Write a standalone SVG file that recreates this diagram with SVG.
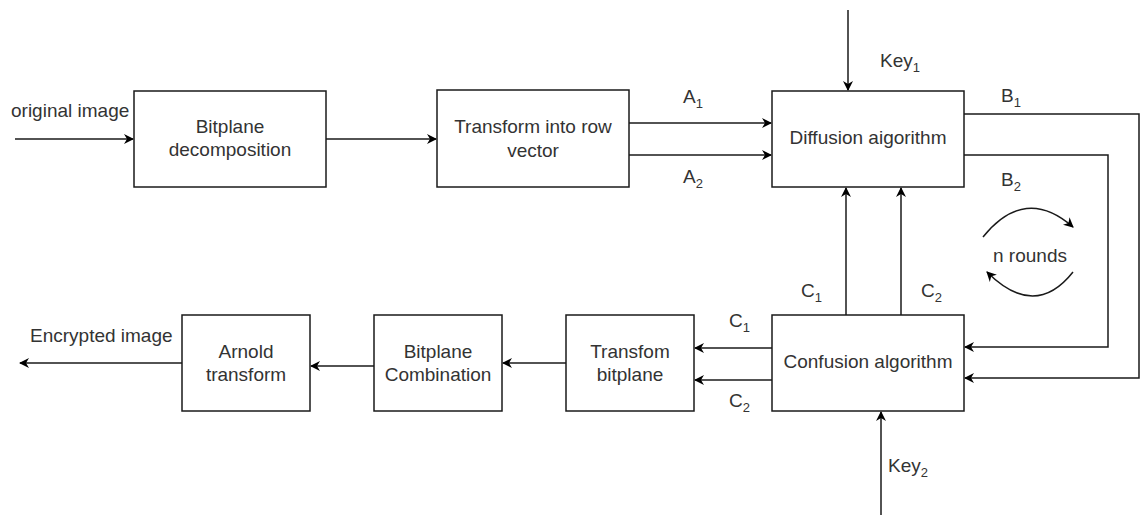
<svg xmlns="http://www.w3.org/2000/svg" width="1146" height="515" viewBox="0 0 1146 515">
<style>
.box{fill:#fff;stroke:#1a1a1a;stroke-width:1.5}
.t{font-family:"Liberation Sans",Arial,sans-serif;font-size:19px;fill:#333}
.s{font-size:13px}
.c{text-anchor:middle}
.ln{fill:none;stroke:#1a1a1a;stroke-width:1.5}
</style>
<defs>
<marker id="ah2" viewBox="0 0 10 10" refX="9" refY="5" markerWidth="10" markerHeight="10" orient="auto" markerUnits="userSpaceOnUse">
<path d="M0,0 L10,5 L0,10 L3,5 Z" fill="#000"/>
</marker>
</defs>
<rect width="1146" height="515" fill="#fff"/>
<g id="connectors">
<line class="ln" x1="15" y1="139" x2="133" y2="139" marker-end="url(#ah2)"/>
<line class="ln" x1="326" y1="139" x2="436" y2="139" marker-end="url(#ah2)"/>
<line class="ln" x1="629" y1="123" x2="771" y2="123" marker-end="url(#ah2)"/>
<line class="ln" x1="629" y1="155" x2="771" y2="155" marker-end="url(#ah2)"/>
<line class="ln" x1="848" y1="10" x2="848" y2="90" marker-end="url(#ah2)"/>
<polyline class="ln" points="964,114 1139,114 1139,378 965,378" marker-end="url(#ah2)"/>
<polyline class="ln" points="964,155 1108,155 1108,347 965,347" marker-end="url(#ah2)"/>
<line class="ln" x1="846" y1="315" x2="846" y2="188" marker-end="url(#ah2)"/>
<line class="ln" x1="901" y1="315" x2="901" y2="188" marker-end="url(#ah2)"/>
<line class="ln" x1="772" y1="348" x2="695" y2="348" marker-end="url(#ah2)"/>
<line class="ln" x1="775" y1="380" x2="695" y2="380" marker-end="url(#ah2)"/>
<line class="ln" x1="881" y1="515" x2="881" y2="412" marker-end="url(#ah2)"/>
<line class="ln" x1="566" y1="363" x2="503" y2="363" marker-end="url(#ah2)"/>
<line class="ln" x1="374" y1="366" x2="311" y2="366" marker-end="url(#ah2)"/>
<line class="ln" x1="182" y1="363" x2="20" y2="363" marker-end="url(#ah2)"/>
<path class="ln" d="M983,237 Q1025,185 1073,227" marker-end="url(#ah2)"/>
<path class="ln" d="M1073,272 Q1035,320 987,272" marker-end="url(#ah2)"/>
</g>
<g id="labels">
<text class="t" x="11" y="117">original image</text>
<text class="t" x="683" y="103">A<tspan class="s" dy="5">1</tspan></text>
<text class="t" x="683" y="183">A<tspan class="s" dy="5">2</tspan></text>
<text class="t" x="880" y="67">Key<tspan class="s" dy="5">1</tspan></text>
<text class="t" x="1001" y="102">B<tspan class="s" dy="5">1</tspan></text>
<text class="t" x="1001" y="186">B<tspan class="s" dy="5">2</tspan></text>
<text class="t c" x="1030" y="262">n rounds</text>
<text class="t" x="801" y="297">C<tspan class="s" dy="5">1</tspan></text>
<text class="t" x="921" y="297">C<tspan class="s" dy="5">2</tspan></text>
<text class="t" x="729" y="327">C<tspan class="s" dy="5">1</tspan></text>
<text class="t" x="729" y="407">C<tspan class="s" dy="5">2</tspan></text>
<text class="t" x="888" y="472">Key<tspan class="s" dy="5">2</tspan></text>
<text class="t" x="30" y="342">Encrypted image</text>
</g>
<g id="bitplane-decomposition">
<rect class="box" x="134" y="91" width="192" height="96"/>
<text class="t c" x="230" y="133">Bitplane</text>
<text class="t c" x="230" y="156">decomposition</text>
</g>
<g id="transform-row-vector">
<rect class="box" x="437" y="90" width="192" height="97"/>
<text class="t c" x="533" y="133">Transform into row</text>
<text class="t c" x="533" y="157">vector</text>
</g>
<g id="diffusion">
<rect class="box" x="772" y="91" width="192" height="96"/>
<text class="t c" x="868" y="144">Diffusion aigorithm</text>
</g>
<g id="confusion">
<rect class="box" x="772" y="315" width="192" height="96"/>
<text class="t c" x="868" y="368">Confusion algorithm</text>
</g>
<g id="transform-bitplane">
<rect class="box" x="566" y="315" width="128" height="96"/>
<text class="t c" x="630" y="358">Transfom</text>
<text class="t c" x="630" y="381">bitplane</text>
</g>
<g id="bitplane-combination">
<rect class="box" x="374" y="315" width="128" height="96"/>
<text class="t c" x="438" y="358">Bitplane</text>
<text class="t c" x="438" y="381">Combination</text>
</g>
<g id="arnold">
<rect class="box" x="182" y="315" width="128" height="96"/>
<text class="t c" x="246" y="358">Arnold</text>
<text class="t c" x="246" y="381">transform</text>
</g>
</svg>
